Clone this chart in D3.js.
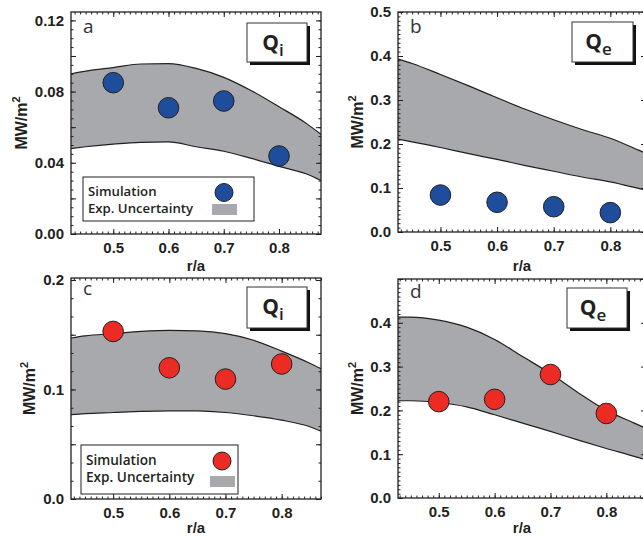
<!DOCTYPE html>
<html><head><meta charset="utf-8">
<script src="https://cdn.jsdelivr.net/npm/d3@7"></script>
<style>
html,body{margin:0;padding:0;background:#fff;overflow:hidden}
svg{display:block}
.tick text{font-family:"Liberation Sans",Arial,sans-serif;font-weight:bold;font-size:15px;fill:#231f20}
</style></head><body>
<svg id="chart" width="643" height="537"></svg>
<script>
// ---------- data ----------
const simX = [0.5, 0.6, 0.7, 0.8];
const qiSimBlue = [0.085, 0.0709, 0.0747, 0.0438];
const qeSimBlue = [0.084, 0.0675, 0.0575, 0.044];
const qiSimRed  = [0.153, 0.1198, 0.1095, 0.1233];
const qeSimRed  = [0.220, 0.2253, 0.282, 0.193];

const bandXA   = [0.4235,0.45,0.5,0.55,0.6,0.65,0.7,0.75,0.8,0.85,0.876];
const qiUpperA = [0.090,0.0915,0.0935,0.0955,0.0957,0.093,0.088,0.0805,0.0715,0.062,0.056];
const qiLowerA = [0.048,0.049,0.0505,0.0515,0.0517,0.049,0.0465,0.0425,0.038,0.0337,0.030];

const bandXB   = [0.425,0.45,0.5,0.55,0.6,0.65,0.7,0.75,0.8,0.85,0.863];
const qeUpperB = [0.393,0.383,0.358,0.332,0.305,0.279,0.255,0.233,0.213,0.186,0.179];
const qeLowerB = [0.211,0.205,0.192,0.178,0.165,0.151,0.138,0.125,0.114,0.099,0.095];

const bandXC   = [0.425,0.45,0.5,0.55,0.6,0.65,0.7,0.75,0.8,0.85,0.87];
const qiUpperC = [0.147,0.149,0.151,0.153,0.154,0.1535,0.151,0.145,0.135,0.124,0.119];
const qiLowerC = [0.077,0.078,0.079,0.080,0.0805,0.0805,0.079,0.076,0.072,0.066,0.062];

const bandXD   = [0.427,0.45,0.5,0.55,0.6,0.65,0.7,0.75,0.8,0.85,0.871];
const qeUpperD = [0.413,0.413,0.406,0.390,0.362,0.323,0.284,0.240,0.200,0.171,0.159];
const qeLowerD = [0.222,0.222,0.218,0.208,0.190,0.171,0.152,0.132,0.113,0.095,0.087];

const xTickLabels = [0.5, 0.6, 0.7, 0.8];
const yTickLabelsA = [0.00, 0.04, 0.08, 0.12];
const yTickLabelsB = [0.0, 0.1, 0.2, 0.3, 0.4, 0.5];
const yTickLabelsC = [0.0, 0.1, 0.2];
const yTickLabelsD = [0.0, 0.1, 0.2, 0.3, 0.4];

const panelLetters = ["a", "b", "c", "d"];
const quantityNames = ["i", "e", "i", "e"];
const legendLabels = ["Simulation", "Exp. Uncertainty"];
const xTitle = "r/a";

// ---------- styles ----------
const BLUE = "#1d4d9b", RED = "#ec2b24", GRAY = "#a7a9ac", INK = "#231f20";

const panels = [
  {id:"a", left:71, right:321, top:12, bottom:234, xDom:[0.4235,0.876], yDom:[0,0.1247],
   bx:bandXA, up:qiUpperA, lo:qiLowerA, sim:qiSimBlue, col:BLUE, yLab:yTickLabelsA, fmt:".2f",
   yMajor:0.02, yMinor:0.005, q:0, letterY:33, box:[247,23,60,39],
   legend:{x:83,y:177,w:171,h:44,fs:13.2,cdx:-30,cy:15.5,rdx:-42,ry:27,t1:19,t2:36},
   ylabX:27, xlabY:271},
  {id:"b", left:398, right:646, top:12, bottom:232, xDom:[0.425,0.863], yDom:[0,0.5],
   bx:bandXB, up:qeUpperB, lo:qeLowerB, sim:qeSimBlue, col:BLUE, yLab:yTickLabelsB, fmt:".1f",
   yMajor:0.1, yMinor:0.01, q:1, letterY:33, box:[572,22,61,40], legend:null,
   ylabX:363, xlabY:271},
  {id:"c", left:71, right:321, top:278, bottom:499, xDom:[0.425,0.87], yDom:[0,0.2018],
   bx:bandXC, up:qiUpperC, lo:qiLowerC, sim:qiSimRed, col:RED, yLab:yTickLabelsC, fmt:".1f",
   yMajor:0.05, yMinor:1/60, q:2, letterY:295, box:[247,287,60,41],
   legend:{x:81,y:445,w:157,h:49,fs:13.6,cdx:-16,cy:16,rdx:-28,ry:31,t1:19.5,t2:37},
   ylabX:35, xlabY:533},
  {id:"d", left:398, right:646, top:279, bottom:498, xDom:[0.427,0.871], yDom:[0,0.5],
   bx:bandXD, up:qeUpperD, lo:qeLowerD, sim:qeSimRed, col:RED, yLab:yTickLabelsD, fmt:".1f",
   yMajor:0.1, yMinor:0.01, q:3, letterY:298, box:[567,288,60,40], legend:null,
   ylabX:363, xlabY:533}
];

const svg = d3.select("#chart");
const defs = svg.append("defs");

function stepsIn(lo, hi, step){
  const a = Math.ceil(lo/step - 1e-6), b = Math.floor(hi/step + 1e-6);
  return d3.range(a, b+1).map(i => +(i*step).toFixed(6));
}
function strip(g){ g.select(".domain").remove(); }

panels.forEach((p, idx) => {
  const x = d3.scaleLinear().domain(p.xDom).range([p.left, p.right]);
  const y = d3.scaleLinear().domain(p.yDom).range([p.bottom, p.top]);
  const g = svg.append("g");

  defs.append("clipPath").attr("id","clip-"+p.id)
    .append("rect").attr("x",p.left).attr("y",p.top)
    .attr("width",p.right-p.left).attr("height",p.bottom-p.top);

  const band = p.bx.map((v,i) => ({x:v, u:p.up[i], l:p.lo[i]}));
  const cg = g.append("g").attr("clip-path","url(#clip-"+p.id+")");
  cg.append("path").datum(band)
    .attr("d", d3.area().curve(d3.curveMonotoneX).x(d=>x(d.x)).y0(d=>y(d.l)).y1(d=>y(d.u)))
    .attr("fill", GRAY);
  ["u","l"].forEach(k => {
    cg.append("path").datum(band)
      .attr("d", d3.line().curve(d3.curveMonotoneX).x(d=>x(d.x)).y(d=>y(d[k])))
      .attr("fill","none").attr("stroke",INK).attr("stroke-width",1.2);
  });

  const xMaj = stepsIn(p.xDom[0], p.xDom[1], 0.1);
  const xMin = stepsIn(p.xDom[0], p.xDom[1], 0.01);
  const yMaj = stepsIn(p.yDom[0], p.yDom[1], p.yMajor);
  const yMin = stepsIn(p.yDom[0], p.yDom[1], p.yMinor);
  const labSet = new Set(p.yLab.map(v => +v.toFixed(6)));
  const xLabSet = new Set(xTickLabels.map(v => +v.toFixed(6)));
  const ff = d3.format(p.fmt);

  const ax = g.append("g").attr("stroke-width",1);
  ax.append("g").attr("transform",`translate(0,${p.bottom})`)
    .call(d3.axisBottom(x).tickValues(xMin).tickSizeInner(-2.5).tickSizeOuter(0).tickFormat("")).call(strip);
  ax.append("g").attr("transform",`translate(0,${p.bottom})`)
    .call(d3.axisBottom(x).tickValues(xMaj).tickSizeInner(-5).tickSizeOuter(0).tickPadding(8)
      .tickFormat(d => xLabSet.has(+d.toFixed(6)) ? d3.format(".1f")(d) : "")).call(strip);
  ax.append("g").attr("transform",`translate(0,${p.top})`)
    .call(d3.axisTop(x).tickValues(xMin).tickSizeInner(-2.5).tickSizeOuter(0).tickFormat("")).call(strip);
  ax.append("g").attr("transform",`translate(0,${p.top})`)
    .call(d3.axisTop(x).tickValues(xMaj).tickSizeInner(-5).tickSizeOuter(0).tickFormat("")).call(strip);
  ax.append("g").attr("transform",`translate(${p.left},0)`)
    .call(d3.axisLeft(y).tickValues(yMin).tickSizeInner(-2.5).tickSizeOuter(0).tickFormat("")).call(strip);
  ax.append("g").attr("transform",`translate(${p.left},0)`)
    .call(d3.axisLeft(y).tickValues(yMaj).tickSizeInner(-5).tickSizeOuter(0).tickPadding(7)
      .tickFormat(d => labSet.has(+d.toFixed(6)) ? ff(d) : "")).call(strip);
  ax.append("g").attr("transform",`translate(${p.right},0)`)
    .call(d3.axisRight(y).tickValues(yMin).tickSizeInner(-2.5).tickSizeOuter(0).tickFormat("")).call(strip);
  ax.append("g").attr("transform",`translate(${p.right},0)`)
    .call(d3.axisRight(y).tickValues(yMaj).tickSizeInner(-5).tickSizeOuter(0).tickFormat("")).call(strip);
  ax.selectAll(".tick line").attr("stroke",INK);

  g.append("rect").attr("x",p.left).attr("y",p.top)
    .attr("width",p.right-p.left).attr("height",p.bottom-p.top)
    .attr("fill","none").attr("stroke",INK).attr("stroke-width",1.3);

  g.append("g").selectAll("circle").data(simX.map((v,i)=>({x:v, y:p.sim[i]}))).join("circle")
    .attr("cx", d=>x(d.x)).attr("cy", d=>y(d.y)).attr("r",10.3)
    .attr("fill",p.col).attr("stroke",INK).attr("stroke-width",1);

  g.append("text").attr("x",p.left+12).attr("y",p.letterY)
    .attr("font-family","'Open Sans',sans-serif").attr("font-size",19).attr("fill","#333")
    .text(panelLetters[idx]);

  const [bx,by,bw,bh] = p.box;
  g.append("rect").attr("x",bx+3).attr("y",by+3).attr("width",bw).attr("height",bh).attr("fill","#111");
  g.append("rect").attr("x",bx).attr("y",by).attr("width",bw).attr("height",bh)
    .attr("fill","#fff").attr("stroke","#333").attr("stroke-width",1);
  const qt = g.append("text").attr("x",bx+bw/2-4).attr("y",by+27).attr("text-anchor","middle")
    .attr("font-family","'Open Sans',sans-serif").attr("font-weight",700).attr("fill",INK);
  qt.append("tspan").attr("font-size",21).text("Q");
  qt.append("tspan").attr("font-size",17).attr("font-weight",600).attr("dy",6).text(quantityNames[p.q]);

  if (p.legend){
    const L = p.legend;
    const lg = g.append("g");
    lg.append("rect").attr("x",L.x).attr("y",L.y).attr("width",L.w).attr("height",L.h)
      .attr("fill","#fff").attr("stroke",INK).attr("stroke-width",1);
    lg.append("text").attr("x",L.x+5).attr("y",L.y+L.t1).attr("font-family","'Open Sans',sans-serif")
      .attr("font-weight",600).attr("font-size",L.fs).attr("fill",INK).text(legendLabels[0]);
    lg.append("text").attr("x",L.x+5).attr("y",L.y+L.t2).attr("font-family","'Open Sans',sans-serif")
      .attr("font-weight",600).attr("font-size",L.fs).attr("fill",INK).text(legendLabels[1]);
    lg.append("circle").attr("cx",L.x+L.w+L.cdx).attr("cy",L.y+L.cy).attr("r",9)
      .attr("fill",p.col).attr("stroke",INK).attr("stroke-width",1);
    lg.append("rect").attr("x",L.x+L.w+L.rdx).attr("y",L.y+L.ry).attr("width",25).attr("height",11).attr("fill",GRAY);
  }

  const cy = (p.top+p.bottom)/2;
  const yl = g.append("text").attr("transform",`translate(${p.ylabX},${cy}) rotate(-90)`)
    .attr("text-anchor","middle").attr("font-family","'Liberation Sans',Arial,sans-serif")
    .attr("font-weight","bold").attr("font-size",16).attr("fill",INK);
  yl.append("tspan").text("MW/m");
  yl.append("tspan").attr("font-size",11).attr("dy",-7).text("2");
  g.append("text").attr("x",(p.left+p.right)/2).attr("y",p.xlabY).attr("text-anchor","middle")
    .attr("font-family","'Liberation Sans',Arial,sans-serif").attr("font-weight","bold")
    .attr("font-size",15).attr("fill",INK).text(xTitle);
});
</script>
</body></html>
